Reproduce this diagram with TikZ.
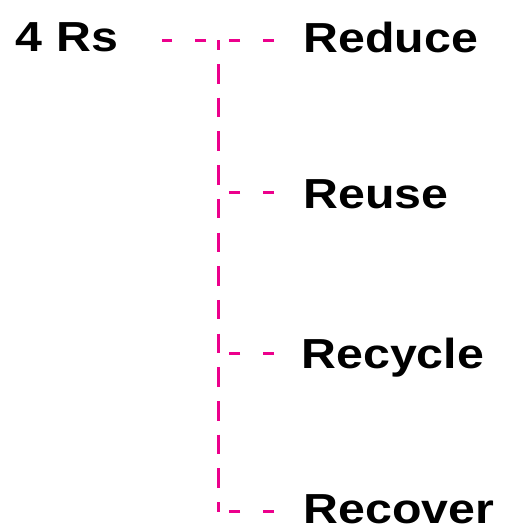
\documentclass[tikz,border=0pt]{standalone}
\usepackage{fontspec}
\setmainfont{Liberation Sans}
\definecolor{rpink}{RGB}{236,0,140}
\begin{document}
\begin{tikzpicture}[x=1pt,y=-1pt,
  lbl/.style={font=\fontsize{42}{50}\selectfont\bfseries, inner sep=0pt, outer sep=0pt, anchor=base west},
  hdash/.style={draw=rpink, line width=3pt, dash pattern=on 11pt off 23pt},
  vdash/.style={draw=rpink, line width=3pt, dash pattern=on 19.5pt off 14.2pt, dash phase=9.7pt}]
\useasboundingbox (0,0) rectangle (507,528);
\node[lbl] (rs) at (16,51) {\scalebox{1.15}[1]{4 Rs}};
\node[lbl] (reduce) at (303.5,52) {\scalebox{1.15}[1]{Reduce}};
\node[lbl] (reuse) at (303.5,208) {\scalebox{1.15}[1]{Reuse}};
\node[lbl] (recycle) at (301.5,368) {\scalebox{1.15}[1]{Recycle}};
\node[lbl] (recover) at (303.5,523) {\scalebox{1.15}[1]{Recover}};
\coordinate (hR) at (274,40);
\coordinate (hL) at (162,40);
\coordinate (vT) at (218,40);
\coordinate (vB) at (218,512);
\coordinate (b2) at (274,192);
\coordinate (j2) at (218,192);
\coordinate (b3) at (274,353);
\coordinate (j3) at (218,353);
\coordinate (b4) at (274,511);
\coordinate (j4) at (218,511);
\draw[hdash] (hR) -- (hL);
\draw[vdash] (vT) -- (vB);
\draw[hdash] (b2) -- (j2);
\draw[hdash] (b3) -- (j3);
\draw[hdash] (b4) -- (j4);
\end{tikzpicture}
\end{document}
